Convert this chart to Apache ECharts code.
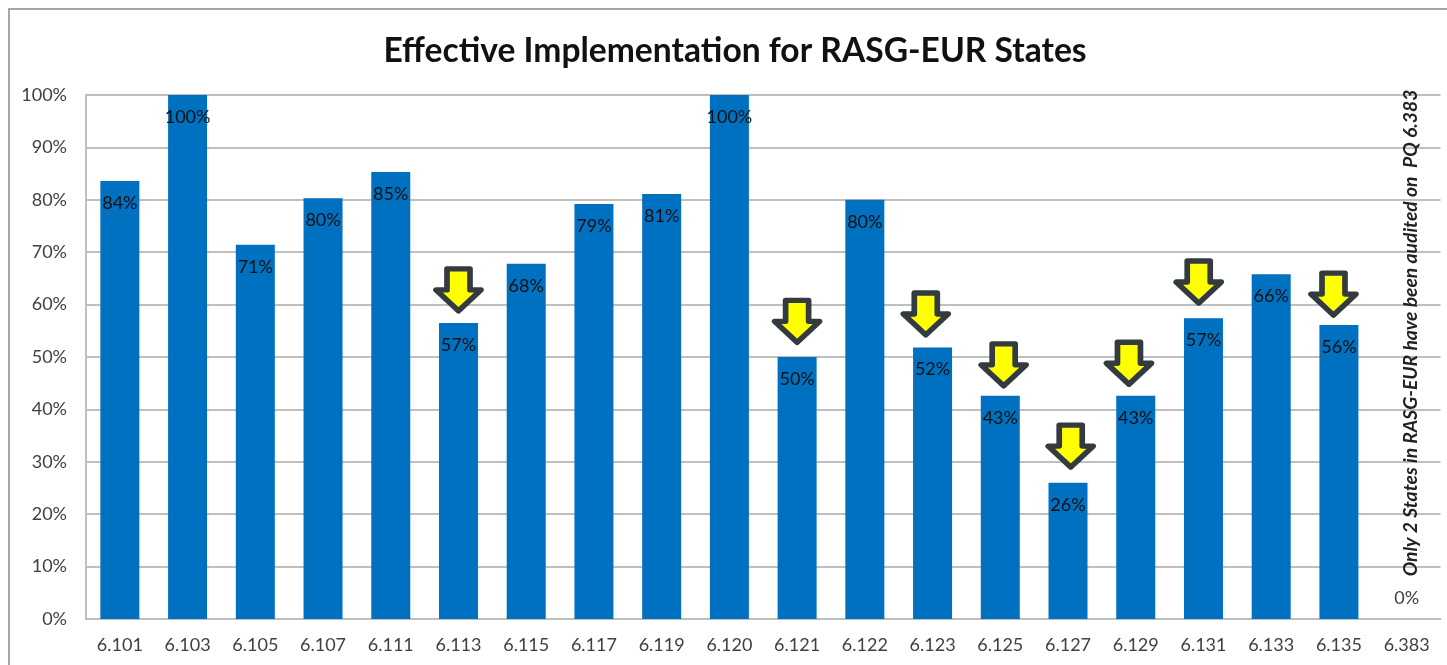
<!DOCTYPE html>
<html>
<head>
<meta charset="utf-8">
<title>Effective Implementation for RASG-EUR States</title>
<style>
html, body { margin: 0; padding: 0; background: #fff; }
#main { width: 1447px; height: 665px; }
</style>
<script src="https://cdn.jsdelivr.net/npm/echarts@6/dist/echarts.min.js"></script>
</head>
<body>
<div id="main"></div>
<script>
var categories = ['6.101', '6.103', '6.105', '6.107', '6.111', '6.113', '6.115', '6.117', '6.119', '6.120',
    '6.121', '6.122', '6.123', '6.125', '6.127', '6.129', '6.131', '6.133', '6.135', '6.383'];
var implementation = [83.6, 100, 71.4, 80.3, 85.3, 56.5, 67.8, 79.2, 81.1, 100,
    50, 80, 51.8, 42.6, 26, 42.6, 57.4, 65.8, 56.1, 0];
// 黄色箭头：x为类目序号，y为箭头尖端的值
var arrowX = [5, 10, 11.9, 13.05, 14.04, 14.9, 15.93, 17.92];
var arrowY = [58.8, 52.8, 54.2, 44.5, 29, 44.8, 60.3, 58];

var titleText = 'Effective Implementation for RASG-EUR States';
var noteText = 'Only 2 States in RASG-EUR have been audited on  PQ 6.383';

var fontName = 'Lato, "Open Sans", sans-serif';
var arrowPath = 'path://M11 0 L34 0 L34 21 L45 21 L22.5 42 L0 21 L11 21 Z';

var arrowData = [];
for (var i = 0; i < arrowX.length; i++) {
    arrowData.push([arrowX[i], arrowY[i]]);
}

var barData = [];
for (var j = 0; j < implementation.length; j++) {
    if (implementation[j] === 0) {
        // 0%的标签在柱子上方
        barData.push({ value: 0, label: { position: 'top', distance: 12, color: '#404040' } });
    } else {
        barData.push(implementation[j]);
    }
}

var myChart = echarts.init(document.getElementById('main'));

var option = {
    animation: false,
    backgroundColor: '#fff',
    textStyle: { fontFamily: fontName },
    title: {
        text: titleText,
        left: 730,
        top: 29,
        textAlign: 'center',
        textStyle: {
            color: '#111',
            fontFamily: fontName,
            fontSize: 33.6,
            fontWeight: 'bold'
        }
    },
    grid: { left: 86, right: 6.5, top: 95, bottom: 46 },
    xAxis: [
        {
            type: 'category',
            data: categories,
            axisTick: { show: false },
            axisLine: { onZero: false, lineStyle: { color: '#bfbfbf', width: 2 } },
            axisLabel: { color: '#404040', fontSize: 18, margin: 17, interval: 0, fontFamily: fontName }
        },
        // 箭头用的隐藏坐标轴
        { type: 'value', min: -0.5, max: 19.5, show: false }
    ],
    yAxis: {
        type: 'value',
        min: 0,
        max: 100,
        interval: 10,
        axisLine: { show: true, onZero: false, lineStyle: { color: '#bfbfbf', width: 2 } },
        axisTick: { show: false },
        splitLine: { lineStyle: { color: '#bfbfbf', width: 2 } },
        axisLabel: { color: '#404040', fontSize: 18, margin: 19, padding: [4, 0, 0, 0], formatter: '{value}%', fontFamily: fontName }
    },
    series: [
        {
            type: 'bar',
            xAxisIndex: 0,
            data: barData,
            barWidth: 39,
            itemStyle: { color: '#0070c0' },
            label: {
                show: true,
                position: 'insideTop',
                distance: 13,
                color: '#111',
                fontSize: 18,
                fontFamily: fontName,
                formatter: function (p) {
                    return Math.round(p.value) + '%';
                }
            }
        },
        {
            type: 'scatter',
            xAxisIndex: 1,
            data: arrowData,
            symbol: arrowPath,
            symbolSize: [45, 42],
            symbolKeepAspect: false,
            symbolOffset: [0, '-50%'],
            z: 5,
            itemStyle: {
                color: '#ffff00',
                borderColor: '#333a40',
                borderWidth: 5.5,
                borderJoin: 'round',
                opacity: 1
            }
        }
    ],
    graphic: [
        { type: 'line', silent: true, shape: { x1: 8, y1: 9, x2: 1447, y2: 9 }, style: { stroke: '#a6a6a6', lineWidth: 2 } },
        { type: 'line', silent: true, shape: { x1: 9, y1: 9, x2: 9, y2: 665 }, style: { stroke: '#a6a6a6', lineWidth: 2 } },
        {
            type: 'text',
            silent: true,
            x: 1411,
            y: 333,
            rotation: Math.PI / 2,
            z: 10,
            style: {
                text: noteText,
                fill: '#222',
                font: 'italic bold 19.3px ' + fontName,
                textAlign: 'center',
                textVerticalAlign: 'middle'
            }
        }
    ]
};

myChart.setOption(option);
</script>
</body>
</html>
